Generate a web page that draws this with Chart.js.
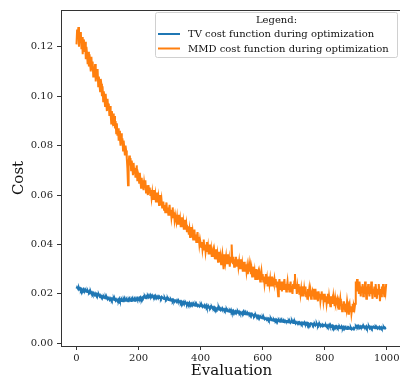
<!DOCTYPE html>
<html><head><meta charset="utf-8">
<script src="https://cdn.jsdelivr.net/npm/chart.js@4"></script>
<style>html,body{margin:0;padding:0;overflow:hidden;background:#fff;width:400px;height:380px}canvas{display:block}</style>
</head><body>
<canvas id="c" width="410" height="380"></canvas>
<script>
// evaluation index of each stored value = position * evaluationStep
const evaluationStep = 2;

const seriesLabels = ['TV cost function during optimization', 'MMD cost function during optimization'];
const legendTitle = 'Legend:';
const xTitle = 'Evaluation';
const yTitle = 'Cost';
const xTicks = [0, 200, 400, 600, 800, 1000];
const yTicks = [0.00, 0.02, 0.04, 0.06, 0.08, 0.10, 0.12];

const tvCost = [
  0.0221,0.0227,0.0223,0.0218,0.0225,0.0219,0.0222,0.0215,0.0220,0.0216,0.0213,0.0219,0.0214,0.0217,0.0210,0.0215,0.0211,0.0208,0.0214,0.0209,
  0.0206,0.0211,0.0204,0.0208,0.0201,0.0205,0.0199,0.0204,0.0200,0.0196,0.0202,0.0197,0.0200,0.0194,0.0198,0.0193,0.0197,0.0191,0.0195,0.0190,
  0.0192,0.0187,0.0190,0.0184,0.0189,0.0185,0.0182,0.0187,0.0181,0.0185,0.0179,0.0184,0.0180,0.0177,0.0183,0.0178,0.0181,0.0175,0.0180,0.0177,
  0.0181,0.0175,0.0179,0.0173,0.0178,0.0174,0.0171,0.0177,0.0173,0.0180,0.0172,0.0176,0.0171,0.0178,0.0174,0.0170,0.0177,0.0172,0.0179,0.0174,
  0.0172,0.0178,0.0174,0.0170,0.0177,0.0173,0.0179,0.0175,0.0171,0.0178,0.0174,0.0180,0.0176,0.0172,0.0179,0.0175,0.0182,0.0177,0.0174,0.0181,
  0.0178,0.0184,0.0180,0.0186,0.0181,0.0178,0.0185,0.0182,0.0188,0.0184,0.0190,0.0185,0.0182,0.0189,0.0186,0.0192,0.0187,0.0194,0.0189,0.0185,
  0.0192,0.0188,0.0194,0.0189,0.0186,0.0191,0.0187,0.0193,0.0188,0.0184,0.0190,0.0186,0.0189,0.0183,0.0188,0.0185,0.0181,0.0187,0.0182,0.0185,
  0.0183,0.0179,0.0185,0.0180,0.0177,0.0182,0.0178,0.0181,0.0175,0.0179,0.0176,0.0173,0.0178,0.0174,0.0177,0.0171,0.0176,0.0172,0.0169,0.0174,
  0.0172,0.0168,0.0174,0.0169,0.0166,0.0171,0.0167,0.0170,0.0164,0.0169,0.0165,0.0162,0.0168,0.0163,0.0166,0.0160,0.0165,0.0161,0.0158,0.0164,
  0.0162,0.0158,0.0164,0.0159,0.0156,0.0161,0.0157,0.0160,0.0154,0.0159,0.0155,0.0152,0.0158,0.0153,0.0156,0.0151,0.0155,0.0152,0.0149,0.0154,
  0.0155,0.0150,0.0154,0.0148,0.0152,0.0149,0.0146,0.0151,0.0147,0.0153,0.0145,0.0149,0.0144,0.0150,0.0146,0.0143,0.0148,0.0144,0.0147,0.0142,
  0.0146,0.0141,0.0145,0.0139,0.0143,0.0140,0.0137,0.0142,0.0138,0.0144,0.0136,0.0140,0.0135,0.0141,0.0137,0.0134,0.0139,0.0135,0.0138,0.0133,
  0.0137,0.0132,0.0136,0.0130,0.0134,0.0131,0.0128,0.0133,0.0129,0.0135,0.0127,0.0131,0.0126,0.0132,0.0128,0.0125,0.0130,0.0126,0.0129,0.0124,
  0.0129,0.0124,0.0128,0.0122,0.0126,0.0123,0.0120,0.0125,0.0121,0.0127,0.0119,0.0123,0.0118,0.0124,0.0120,0.0117,0.0122,0.0118,0.0121,0.0116,
  0.0119,0.0114,0.0118,0.0112,0.0116,0.0113,0.0110,0.0115,0.0111,0.0113,0.0107,0.0111,0.0106,0.0110,0.0105,0.0108,0.0103,0.0107,0.0104,0.0101,
  0.0105,0.0100,0.0104,0.0098,0.0102,0.0099,0.0096,0.0101,0.0097,0.0100,0.0094,0.0098,0.0095,0.0099,0.0093,0.0097,0.0094,0.0091,0.0096,0.0092,
  0.0096,0.0091,0.0095,0.0090,0.0093,0.0089,0.0094,0.0090,0.0087,0.0092,0.0088,0.0093,0.0089,0.0086,0.0091,0.0087,0.0092,0.0088,0.0085,0.0090,
  0.0090,0.0085,0.0089,0.0084,0.0088,0.0083,0.0087,0.0091,0.0085,0.0082,0.0088,0.0084,0.0087,0.0081,0.0086,0.0083,0.0080,0.0085,0.0082,0.0086,
  0.0084,0.0079,0.0083,0.0078,0.0082,0.0077,0.0081,0.0085,0.0079,0.0076,0.0082,0.0078,0.0081,0.0075,0.0080,0.0077,0.0074,0.0079,0.0076,0.0080,
  0.0079,0.0074,0.0078,0.0073,0.0077,0.0072,0.0076,0.0080,0.0074,0.0071,0.0077,0.0073,0.0076,0.0070,0.0075,0.0072,0.0069,0.0074,0.0071,0.0075,
  0.0074,0.0069,0.0073,0.0068,0.0072,0.0067,0.0071,0.0075,0.0069,0.0066,0.0072,0.0068,0.0071,0.0065,0.0070,0.0067,0.0064,0.0069,0.0066,0.0070,
  0.0068,0.0063,0.0067,0.0062,0.0066,0.0061,0.0065,0.0069,0.0063,0.0060,0.0066,0.0062,0.0065,0.0059,0.0064,0.0061,0.0058,0.0063,0.0060,0.0064,
  0.0062,0.0058,0.0063,0.0057,0.0061,0.0059,0.0056,0.0062,0.0060,0.0064,0.0069,0.0065,0.0070,0.0066,0.0071,0.0067,0.0064,0.0069,0.0065,0.0068,
  0.0066,0.0070,0.0064,0.0068,0.0063,0.0067,0.0065,0.0069,0.0062,0.0066,0.0064,0.0068,0.0062,0.0067,0.0063,0.0066,0.0061,0.0065,0.0063,0.0067,
  0.0065,0.0061,0.0066,0.0062,0.0064,0.0060,0.0065,0.0062,0.0059,0.0064,0.0061,0.0065,0.0060,0.0063,0.0061,0.0065,0.0060,0.0064,0.0062,0.0063
];

const mmdCost = [
  0.121,0.127,0.124,0.128,0.120,0.125,0.122,0.126,0.119,0.124,0.117,0.123,0.120,0.118,0.122,0.115,0.120,0.117,0.113,0.118,
  0.112,0.117,0.113,0.110,0.116,0.111,0.114,0.108,0.112,0.109,0.113,0.106,0.110,0.107,0.111,0.104,0.108,0.105,0.102,0.107,
  0.105,0.100,0.104,0.098,0.102,0.099,0.096,0.101,0.097,0.094,0.099,0.095,0.097,0.092,0.096,0.093,0.089,0.094,0.091,0.093,
  0.088,0.092,0.087,0.090,0.085,0.089,0.084,0.087,0.082,0.086,0.083,0.080,0.085,0.081,0.083,0.078,0.082,0.079,0.076,0.080,
  0.078,0.075,0.071,0.064,0.073,0.076,0.072,0.075,0.070,0.074,0.071,0.068,0.073,0.069,0.071,0.067,0.070,0.072,0.066,0.069,
  0.068,0.065,0.069,0.066,0.063,0.067,0.064,0.066,0.062,0.065,0.063,0.066,0.061,0.064,0.062,0.060,0.064,0.061,0.063,0.060,
  0.062,0.059,0.061,0.058,0.060,0.062,0.058,0.060,0.057,0.059,0.061,0.057,0.059,0.056,0.058,0.060,0.056,0.058,0.055,0.057,
  0.057,0.054,0.056,0.053,0.055,0.057,0.053,0.055,0.052,0.054,0.056,0.052,0.054,0.051,0.053,0.055,0.051,0.053,0.050,0.052,
  0.052,0.049,0.051,0.048,0.050,0.052,0.048,0.050,0.047,0.049,0.051,0.047,0.049,0.046,0.048,0.050,0.046,0.048,0.045,0.047,
  0.047,0.044,0.046,0.043,0.045,0.047,0.043,0.045,0.042,0.044,0.046,0.042,0.044,0.041,0.043,0.045,0.041,0.043,0.040,0.042,
  0.042,0.039,0.041,0.038,0.040,0.042,0.038,0.040,0.037,0.039,0.041,0.037,0.039,0.036,0.038,0.040,0.036,0.038,0.035,0.037,
  0.038,0.035,0.037,0.034,0.036,0.038,0.034,0.036,0.033,0.035,0.037,0.033,0.035,0.032,0.034,0.036,0.033,0.030,0.034,0.036,
  0.033,0.035,0.032,0.034,0.036,0.032,0.034,0.031,0.035,0.033,0.040,0.034,0.032,0.035,0.031,0.034,0.032,0.035,0.031,0.033,
  0.034,0.031,0.033,0.030,0.032,0.034,0.030,0.032,0.029,0.031,0.033,0.029,0.031,0.032,0.029,0.031,0.028,0.030,0.032,0.029,
  0.031,0.028,0.030,0.027,0.029,0.031,0.027,0.029,0.026,0.028,0.030,0.026,0.028,0.029,0.026,0.028,0.025,0.027,0.029,0.026,
  0.028,0.025,0.027,0.024,0.026,0.028,0.024,0.026,0.023,0.025,0.027,0.024,0.026,0.023,0.025,0.027,0.023,0.025,0.024,0.026,
  0.024,0.026,0.023,0.025,0.022,0.019,0.024,0.026,0.022,0.025,0.023,0.021,0.025,0.022,0.024,0.026,0.022,0.024,0.021,0.023,
  0.025,0.022,0.024,0.021,0.023,0.025,0.021,0.023,0.020,0.024,0.022,0.025,0.028,0.022,0.024,0.020,0.023,0.021,0.024,0.020,
  0.023,0.020,0.022,0.019,0.021,0.023,0.019,0.022,0.020,0.023,0.019,0.021,0.018,0.022,0.020,0.022,0.019,0.021,0.018,0.020,
  0.021,0.019,0.022,0.018,0.020,0.022,0.018,0.021,0.019,0.017,0.021,0.019,0.020,0.017,0.019,0.021,0.018,0.020,0.017,0.019,
  0.020,0.017,0.019,0.016,0.018,0.020,0.016,0.019,0.017,0.015,0.019,0.017,0.018,0.016,0.019,0.017,0.015,0.018,0.016,0.017,
  0.018,0.016,0.017,0.014,0.016,0.018,0.015,0.017,0.013,0.016,0.014,0.017,0.015,0.013,0.016,0.014,0.017,0.015,0.012,0.015,
  0.016,0.013,0.015,0.012,0.014,0.016,0.013,0.015,0.014,0.016,0.025,0.022,0.026,0.021,0.024,0.020,0.025,0.022,0.019,0.023,
  0.021,0.024,0.019,0.023,0.020,0.025,0.022,0.018,0.023,0.020,0.024,0.021,0.019,0.023,0.020,0.025,0.021,0.018,0.022,0.020,
  0.023,0.019,0.024,0.021,0.018,0.022,0.020,0.024,0.021,0.017,0.022,0.019,0.023,0.020,0.024,0.021,0.019,0.023,0.021,0.024
];

const toPoints = arr => arr.map((y, i) => ({ x: i * evaluationStep, y }));

const FONT = '"DejaVu Serif", serif';

const frameTop = {
  id: 'frameTop',
  afterDatasetsDraw(chart) {
    const { ctx, chartArea } = chart;
    ctx.save();
    ctx.strokeStyle = '#333';
    ctx.lineWidth = 1;
    ctx.beginPath();
    ctx.moveTo(chartArea.left, chartArea.top + 0.5);
    ctx.lineTo(chartArea.right, chartArea.top + 0.5);
    ctx.stroke();
    ctx.restore();
  }
};

const legendBox = {
  id: 'legendBox',
  afterDraw(chart) {
    const ctx = chart.ctx;
    const bx = 155.5, by = 12.5, bw = 242, bh = 45;
    ctx.save();
    ctx.beginPath();
    ctx.roundRect(bx, by, bw, bh, 2);
    ctx.fillStyle = 'rgba(255,255,255,0.8)';
    ctx.fill();
    ctx.strokeStyle = '#d0d0d0';
    ctx.lineWidth = 1;
    ctx.stroke();
    ctx.font = '10px ' + FONT;
    ctx.fillStyle = '#111';
    ctx.textBaseline = 'middle';
    ctx.textAlign = 'center';
    ctx.fillText(legendTitle, bx + bw / 2, 20.5);
    ctx.textAlign = 'left';
    chart.data.datasets.forEach((ds, i) => {
      const yy = 34 + i * 14.5;
      ctx.strokeStyle = ds.borderColor;
      ctx.lineWidth = 2;
      ctx.beginPath();
      ctx.moveTo(158, yy);
      ctx.lineTo(180, yy);
      ctx.stroke();
      ctx.fillStyle = '#111';
      ctx.fillText(ds.label, 188, yy + 0.5);
    });
    ctx.restore();
  }
};

new Chart(document.getElementById('c'), {
  type: 'line',
  data: {
    datasets: [
      { label: seriesLabels[0], data: toPoints(tvCost), borderColor: '#1f77b4', backgroundColor: '#1f77b4', borderWidth: 2, pointRadius: 0, tension: 0 },
      { label: seriesLabels[1], data: toPoints(mmdCost), borderColor: '#ff7f0e', backgroundColor: '#ff7f0e', borderWidth: 2, pointRadius: 0, tension: 0 }
    ]
  },
  options: {
    responsive: false,
    animation: false,
    events: [],
    layout: { padding: { left: 0, top: 6, right: 8, bottom: 0 } },
    plugins: { legend: { display: false }, tooltip: { enabled: false } },
    scales: {
      x: {
        type: 'linear',
        min: -49.95, max: 1048.95,
        afterFit: s => { s.height = 34; },
        afterBuildTicks: s => { s.ticks = xTicks.map(v => ({ value: v })); },
        grid: { drawOnChartArea: false, drawTicks: true, tickLength: 4, color: '#333' },
        border: { display: true, color: '#333', width: 1 },
        ticks: { font: { family: FONT, size: 10 }, color: '#222', padding: 2, maxRotation: 0, callback: v => String(v) },
        title: { display: true, text: xTitle, font: { family: FONT, size: 15 }, color: '#111', padding: { top: 0, bottom: 0 } }
      },
      y: {
        min: -0.0011, max: 0.1349,
        afterFit: s => { s.width = 61; },
        afterBuildTicks: s => { s.ticks = yTicks.map(v => ({ value: v })); },
        grid: { drawOnChartArea: false, drawTicks: true, tickLength: 4, color: '#333' },
        border: { display: true, color: '#333', width: 1 },
        ticks: { font: { family: FONT, size: 10 }, color: '#222', padding: 4, callback: v => v.toFixed(2) },
        title: { display: true, text: yTitle, font: { family: FONT, size: 15 }, color: '#111', padding: { top: 10, bottom: 0 } }
      }
    }
  },
  plugins: [frameTop, legendBox]
});
</script>
</body></html>
